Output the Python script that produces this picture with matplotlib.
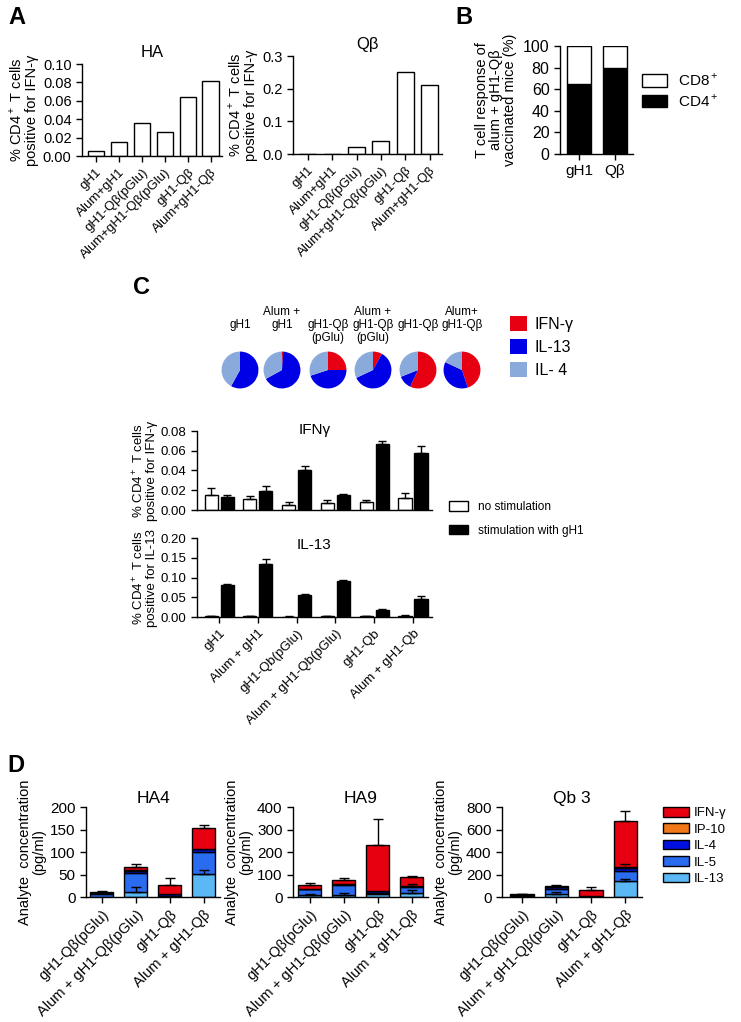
import numpy as np
import matplotlib
matplotlib.use("Agg")
import matplotlib.pyplot as plt
from matplotlib.patches import Patch

plt.rcParams['font.family'] = ['Liberation Sans', 'DejaVu Sans']
plt.rcParams['mathtext.fontset'] = 'custom'
plt.rcParams['mathtext.rm'] = 'Liberation Sans'
plt.rcParams['axes.linewidth'] = 1.0

# ---------------- data ----------------
a_labels = ['gH1', 'Alum+gH1', 'gH1-Qβ(pGlu)', 'Alum+gH1-Qβ(pGlu)', 'gH1-Qβ', 'Alum+gH1-Qβ']
a_ha = [0.005, 0.015, 0.036, 0.026, 0.064, 0.081]
a_qb = [0.0, 0.0, 0.022, 0.040, 0.250, 0.212]

b_labels = ['gH1', 'Qβ']
b_cd4 = [65, 80]
b_cd8 = [35, 20]

pie_top = ['', 'Alum +', '', 'Alum +', '', 'Alum+']
pie_mid = ['gH1', 'gH1', 'gH1-Qβ', 'gH1-Qβ', 'gH1-Qβ', 'gH1-Qβ']
pie_bot = ['', '', '(pGlu)', '(pGlu)', '', '']
pie_ifn = [0, 1, 25, 8, 57, 45]
pie_il13 = [58, 66, 45, 60, 12, 37]
pie_il4 = [42, 33, 30, 32, 31, 18]

c_labels = ['gH1', 'Alum + gH1', 'gH1-Qb(pGlu)', 'Alum + gH1-Qb(pGlu)', 'gH1-Qb', 'Alum + gH1-Qb']
c_ifn_none = [0.015, 0.011, 0.005, 0.007, 0.008, 0.012]
c_ifn_none_err = [0.007, 0.003, 0.003, 0.003, 0.002, 0.005]
c_ifn_stim = [0.013, 0.019, 0.040, 0.015, 0.067, 0.058]
c_ifn_stim_err = [0.002, 0.005, 0.005, 0.001, 0.003, 0.007]
c_il13_none = [0.002, 0.002, 0.001, 0.002, 0.002, 0.003]
c_il13_none_err = [0.001, 0.001, 0.0005, 0.001, 0.001, 0.001]
c_il13_stim = [0.081, 0.134, 0.056, 0.091, 0.018, 0.046]
c_il13_stim_err = [0.003, 0.012, 0.002, 0.003, 0.002, 0.006]

d_labels = ['gH1-Qβ(pGlu)', 'Alum + gH1-Qβ(pGlu)', 'gH1-Qβ', 'Alum + gH1-Qβ']
d_analytes = ['IL-13', 'IL-5', 'IL-4', 'IP-10', 'IFN-γ']   # bottom -> top
d_colors = ['#5cb8f5', '#2a6cf0', '#0010e0', '#f07818', '#e60010']

ha4 = {'IL-13': [1, 12, 1, 52], 'IL-5': [5, 41, 2, 49], 'IL-4': [4, 5, 3, 5],
       'IP-10': [0, 1, 0, 1], 'IFN-γ': [2, 8, 20, 47]}
ha4_err = {'IL-13': [0, 10, 0, 8], 'IFN-γ': [1, 6, 16, 7]}
ha9 = {'IL-13': [7, 10, 12, 19], 'IL-5': [27, 42, 8, 27], 'IL-4': [3, 5, 7, 4],
       'IP-10': [0, 1, 0, 1], 'IFN-γ': [15, 18, 204, 39]}
ha9_err = {'IL-13': [5, 6, 0, 11], 'IL-4': [0, 0, 0, 8], 'IFN-γ': [12, 9, 114, 4]}
qb3 = {'IL-13': [3, 30, 2, 142], 'IL-5': [5, 40, 3, 93], 'IL-4': [6, 20, 4, 25],
       'IP-10': [0, 1, 0, 5], 'IFN-γ': [10, 10, 54, 413]}
qb3_err = {'IL-13': [0, 15, 0, 15], 'IL-4': [0, 0, 0, 30], 'IFN-γ': [6, 6, 24, 86]}

# ---------------- figure ----------------
W, H = 741, 1022
fig = plt.figure(figsize=(W / 100, H / 100), dpi=100)


def add_px(l, t, r, b):
    return fig.add_axes([l / W, 1 - b / H, (r - l) / W, (b - t) / H])


def prism(ax):
    ax.spines['top'].set_visible(False)
    ax.spines['right'].set_visible(False)
    ax.tick_params(direction='out', length=4, width=1)


def ftext(x, y, s, **kw):
    fig.text(x / W, 1 - y / H, s, **kw)


ylab_a = '% CD4$^+$ T cells\npositive for IFN-γ'

# ---- A ----
x6 = np.arange(6)
for (l, t, r, b, vals, ymax, step, fmt, title) in [(82, 64, 222, 156, a_ha, 0.10, 0.02, '%.2f', 'HA'),
                                                   (293, 56, 442, 154, a_qb, 0.3, 0.1, '%.1f', 'Qβ')]:
    ax = add_px(l, t, r, b)
    prism(ax)
    ax.bar(x6, vals, width=0.7, color='white', edgecolor='black', linewidth=1)
    ax.set_xlim(-0.6, 5.5)
    ax.set_ylim(0, ymax)
    ticks = np.arange(0, ymax + step / 2, step)
    ax.set_yticks(ticks)
    ax.set_yticklabels([fmt % v for v in ticks], fontsize=10.5)
    ax.set_xticks(x6)
    ax.set_xticklabels(a_labels, rotation=45, ha='right', rotation_mode='anchor', fontsize=9.5)
    ax.set_ylabel(ylab_a, fontsize=10.5, labelpad=3, linespacing=1.0)
    ax.set_title(title, fontsize=12, pad=5)

# ---- B ----
ax = add_px(560, 46, 633, 154)
prism(ax)
xb = np.arange(2)
ax.bar(xb, b_cd4, width=0.67, color='black', edgecolor='black', linewidth=1, label='CD4$^+$')
ax.bar(xb, b_cd8, bottom=b_cd4, width=0.67, color='white', edgecolor='black', linewidth=1, label='CD8$^+$')
ax.set_xlim(-0.53, 1.5)
ax.set_ylim(0, 100)
ax.set_yticks(range(0, 101, 20))
ax.tick_params(labelsize=11.5)
ax.set_xticks(xb)
ax.set_xticklabels(b_labels, fontsize=11)
ax.set_ylabel('T cell response of\nalum + gH1-Qβ\nvaccinated mice (%)', fontsize=10.5, linespacing=1.0)
h, lb = ax.get_legend_handles_labels()
ax.legend(h[::-1], lb[::-1], loc='upper left', bbox_to_anchor=(642 / W, 1 - 72 / H),
          bbox_transform=fig.transFigure, frameon=False, fontsize=11, handlelength=1.63,
          handleheight=0.85, labelspacing=0.25, handletextpad=0.72, borderpad=0, borderaxespad=0)

# ---- C pies ----
pie_cols = ['#e60012', '#0000e6', '#8aaadc']
pie_x = [240, 282, 328, 373, 418, 462]
for i in range(6):
    cx, cy = pie_x[i], 370
    pax = add_px(cx - 19, cy - 19, cx + 19, cy + 19)
    pax.pie([pie_ifn[i], pie_il13[i], pie_il4[i]], colors=pie_cols, startangle=90,
            counterclock=False, radius=1.0)
    pax.set_xlim(-1.03, 1.03)
    pax.set_ylim(-1.03, 1.03)
    pax.set_aspect('equal')
    ftext(cx, 312, pie_top[i], ha='center', va='center', fontsize=8.5)
    ftext(cx, 325, pie_mid[i], ha='center', va='center', fontsize=8.5)
    ftext(cx, 338, pie_bot[i], ha='center', va='center', fontsize=8.5)
pie_handles = [Patch(facecolor=c, edgecolor='none') for c in pie_cols]
fig.legend(pie_handles, ['IFN-γ', 'IL-13', 'IL- 4'], loc='upper left',
           bbox_to_anchor=(510 / W, 1 - 316 / H), frameon=False, fontsize=11.5,
           handlelength=1.06, handleheight=1.06, labelspacing=0.44, handletextpad=0.5,
           borderpad=0, borderaxespad=0)

# ---- C bars ----
ylab_c = ['% CD4$^+$ T cells\npositive for IFN-γ', '% CD4$^+$ T cells\npositive for IL-13']
for k, (t, b, none, none_e, stim, stim_e, ymax, step, title, ty) in enumerate([
        (431, 510, c_ifn_none, c_ifn_none_err, c_ifn_stim, c_ifn_stim_err, 0.08, 0.02, 'IFNγ', 1.01),
        (538, 617, c_il13_none, c_il13_none_err, c_il13_stim, c_il13_stim_err, 0.20, 0.05, 'IL-13', 0.91)]):
    ax = add_px(197, t, 432, b)
    prism(ax)
    ax.bar(x6 - 0.206, none, width=0.34, color='white', edgecolor='black', linewidth=1,
           label='no stimulation')
    ax.bar(x6 + 0.206, stim, width=0.34, color='black', edgecolor='black', linewidth=1,
           label='stimulation with gH1')
    ax.errorbar(x6 - 0.206, none, yerr=[np.zeros(6), none_e], fmt='none', ecolor='black',
                elinewidth=1, capsize=3, capthick=1)
    ax.errorbar(x6 + 0.206, stim, yerr=[np.zeros(6), stim_e], fmt='none', ecolor='black',
                elinewidth=1, capsize=3, capthick=1)
    ax.set_xlim(-0.57, 5.49)
    ax.set_ylim(0, ymax)
    ticks = np.arange(0, ymax + step / 2, step)
    ax.set_yticks(ticks)
    ax.set_yticklabels(['%.2f' % v for v in ticks], fontsize=9.5)
    ax.set_xticks(x6)
    if k == 0:
        ax.set_xticklabels([])
        ax.tick_params(axis='x', length=0)
        h, lb = ax.get_legend_handles_labels()
        fig.legend(h, lb, loc='upper left', bbox_to_anchor=(449 / W, 1 - 501 / H),
                   frameon=False, fontsize=8.5, handlelength=1.6, handleheight=0.85,
                   labelspacing=1.0, handletextpad=0.85, borderpad=0, borderaxespad=0)
    else:
        ax.set_xticklabels(c_labels, rotation=45, ha='right', rotation_mode='anchor', fontsize=9.5)
    ax.set_ylabel(ylab_c[k], fontsize=9.5, labelpad=2, linespacing=1.0)
    ax.text(0.5, ty, title, transform=ax.transAxes, ha='center', va='center', fontsize=11)

# ---- D ----
x4 = np.arange(4)
d_panels = [(86, 220, ha4, ha4_err, 200, 50, 'HA4', -0.47),
            (293, 428, ha9, ha9_err, 400, 100, 'HA9', -0.5),
            (502, 642, qb3, qb3_err, 800, 200, 'Qb 3', -0.58)]
bars_for_legend = []
for (l, r, data, errs, ymax, step, title, x0) in d_panels:
    ax = add_px(l, 807, r, 897)
    prism(ax)
    bottom = np.zeros(4)
    conts = []
    for name, col in zip(d_analytes, d_colors):
        vals = np.array(data[name], dtype=float)
        c = ax.bar(x4, vals, bottom=bottom, width=0.68, color=col, edgecolor='black',
                   linewidth=1, label=name)
        conts.append(c)
        top = bottom + vals
        if name in errs:
            e = np.array(errs[name], dtype=float)
            m = e > 0
            ax.errorbar(x4[m], top[m], yerr=[np.zeros(m.sum()), e[m]], fmt='none',
                        ecolor='black', elinewidth=1, capsize=3.5, capthick=1)
        bottom = top
    bars_for_legend = conts
    ax.set_xlim(x0, 3.48)
    ax.set_ylim(0, ymax)
    ax.set_yticks(np.arange(0, ymax + 1, step))
    ax.tick_params(axis='y', labelsize=11)
    ax.set_xticks(x4)
    ax.set_xticklabels(d_labels, rotation=45, ha='right', rotation_mode='anchor', fontsize=10.5)
    ax.set_ylabel('Analyte  concentration\n(pg/ml)', fontsize=10.5, labelpad=3, linespacing=1.0)
    ax.set_title(title, fontsize=12.5, pad=3)

fig.legend(bars_for_legend[::-1], d_analytes[::-1], loc='upper left',
           bbox_to_anchor=(663 / W, 1 - 807 / H), frameon=False, fontsize=9.5,
           handlelength=2.0, handleheight=0.75, labelspacing=0.3, handletextpad=0.3,
           borderpad=0, borderaxespad=0)

# panel letters
ftext(8, 17, 'A', fontsize=17, fontweight='bold', va='center')
ftext(455, 17, 'B', fontsize=17, fontweight='bold', va='center')
ftext(133, 288, 'C', fontsize=17, fontweight='bold', va='center')
ftext(7, 765, 'D', fontsize=17, fontweight='bold', va='center')

fig.savefig('out.png', dpi=100)
